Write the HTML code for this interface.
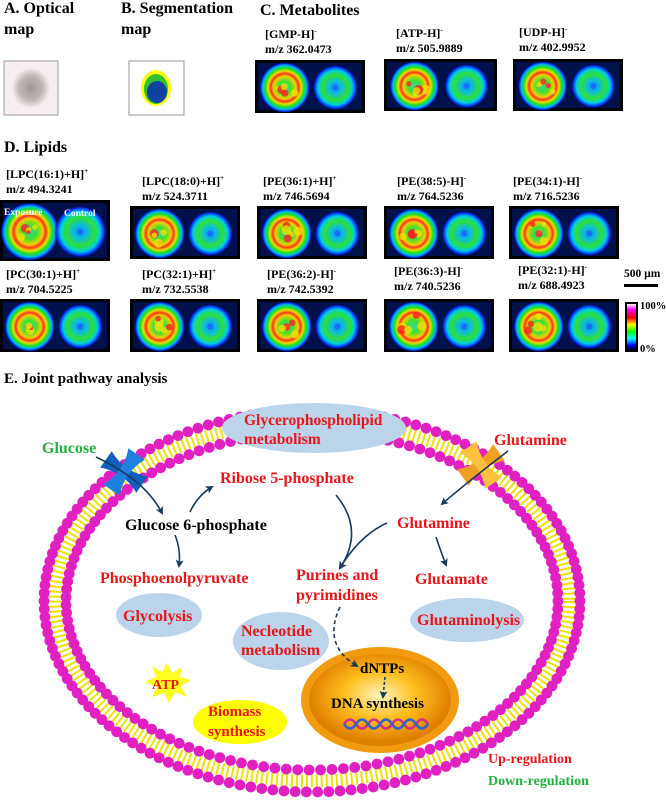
<!DOCTYPE html>
<html><head><meta charset="utf-8"><style>
html,body{margin:0;padding:0;background:#fff;width:666px;height:800px;overflow:hidden}
svg{display:block;font-family:"Liberation Serif",serif;font-weight:bold}
</style></head><body>
<svg id="s" width="666" height="800" viewBox="0 0 666 800" xmlns="http://www.w3.org/2000/svg">
<defs>
<radialGradient id="hot"><stop offset="0" stop-color="#30d8a0"/><stop offset="0.25" stop-color="#40e030"/><stop offset="0.45" stop-color="#f0d000"/><stop offset="0.55" stop-color="#ff3020"/><stop offset="0.65" stop-color="#e8e000"/><stop offset="0.76" stop-color="#20e020"/><stop offset="0.86" stop-color="#00c0e0"/><stop offset="0.94" stop-color="#0030ff"/><stop offset="1" stop-color="#000040" stop-opacity="0"/></radialGradient>
<radialGradient id="cool"><stop offset="0" stop-color="#0090ff"/><stop offset="0.3" stop-color="#10c0d0"/><stop offset="0.55" stop-color="#30e030"/><stop offset="0.75" stop-color="#00d0e0"/><stop offset="0.9" stop-color="#0030ff"/><stop offset="1" stop-color="#000040" stop-opacity="0"/></radialGradient>
<radialGradient id="nuc" cx="0.5" cy="0.45"><stop offset="0" stop-color="#fff4c0"/><stop offset="0.5" stop-color="#ffc020"/><stop offset="1" stop-color="#e08000"/></radialGradient>
<radialGradient id="opt"><stop offset="0" stop-color="#a09898"/><stop offset="0.6" stop-color="#c0b4b4"/><stop offset="1" stop-color="#f4eeee"/></radialGradient>
<linearGradient id="cbar" x1="0" y1="0" x2="0" y2="1"><stop offset="0" stop-color="#fff"/><stop offset="0.12" stop-color="#ff00ff"/><stop offset="0.3" stop-color="#ff0000"/><stop offset="0.45" stop-color="#ffff00"/><stop offset="0.6" stop-color="#00ff00"/><stop offset="0.75" stop-color="#00ffff"/><stop offset="0.9" stop-color="#0000ff"/><stop offset="1" stop-color="#000"/></linearGradient>
<marker id="ar" markerWidth="8" markerHeight="8" refX="6" refY="4" orient="auto" markerUnits="userSpaceOnUse"><path d="M0,0 L8,4 L0,8 L2,4z" fill="#1a3a5c"/></marker>
</defs>
<g font-size="16">
<text x="4" y="13">A. Optical</text><text x="4" y="34">map</text>
<text x="121" y="13">B. Segmentation</text><text x="121" y="34">map</text>
<text x="260" y="15">C. Metabolites</text>
<text x="4" y="152">D. Lipids</text>
<text x="4" y="383" font-size="15">E. Joint pathway analysis</text>
</g>
<rect x="4" y="61" width="54" height="54" fill="#f6eeee" stroke="#999"/>
<ellipse cx="31" cy="88" rx="19" ry="20" fill="url(#opt)"/>
<rect x="129" y="61" width="55" height="54" fill="#fff" stroke="#999"/>
<ellipse cx="156" cy="88" rx="15" ry="18" fill="#ffff00"/>
<ellipse cx="156" cy="89" rx="12" ry="15" fill="#30c030"/>
<ellipse cx="157" cy="92" rx="10" ry="11" fill="#1040a0"/>
<g id="heat"></g>
<g font-size="12" id="labels"></g>
<text x="624" y="277" font-size="11.5">500 µm</text>
<rect x="624" y="284" width="34" height="3" fill="#000"/>
<rect x="625" y="302" width="13" height="50" fill="#000"/>
<rect x="627" y="304" width="9" height="46" fill="url(#cbar)"/>
<text x="640" y="309" font-size="10.5">100%</text><text x="640" y="352" font-size="10.5">0%</text>
<g id="mem"></g>
<ellipse cx="314" cy="428" rx="92" ry="25" fill="#bcd4ea"/>
<text x="244" y="425" font-size="15.5" fill="#e8161a">Glycerophospholipid</text>
<text x="244" y="444" font-size="15.5" fill="#e8161a">metabolism</text>
<g transform="translate(124,472) rotate(35)"><path d="M-22,-10 Q0,0 22,-10 L22,10 Q0,0 -22,10z" fill="#1060c0"/><path d="M-10,-22 Q0,0 -10,22 L10,22 Q0,0 10,-22z" fill="#2080e0"/></g>
<g transform="translate(481,465) rotate(-35)"><path d="M-22,-10 Q0,0 22,-10 L22,10 Q0,0 -22,10z" fill="#f0a020"/><path d="M-10,-22 Q0,0 -10,22 L10,22 Q0,0 10,-22z" fill="#ffc040"/></g>
<g font-size="16">
<text x="42" y="453" fill="#20b040">Glucose</text>
<text x="494" y="445" fill="#e8161a">Glutamine</text>
<text x="220" y="483" fill="#e8161a">Ribose 5-phosphate</text>
<text x="125" y="530" fill="#000">Glucose 6-phosphate</text>
<text x="397" y="528" fill="#e8161a">Glutamine</text>
<text x="100" y="583" fill="#e8161a">Phosphoenolpyruvate</text>
<text x="296" y="580" fill="#e8161a">Purines and</text>
<text x="296" y="600" fill="#e8161a">pyrimidines</text>
<text x="415" y="584" fill="#e8161a">Glutamate</text>
</g>
<ellipse cx="159" cy="615" rx="43" ry="22" fill="#bcd4ea"/>
<text x="123" y="621" font-size="16" fill="#e8161a">Glycolysis</text>
<ellipse cx="467" cy="620" rx="57" ry="22" fill="#bcd4ea"/>
<text x="417" y="625" font-size="16" fill="#e8161a">Glutaminolysis</text>
<ellipse cx="281" cy="641" rx="48" ry="29" fill="#bcd4ea"/>
<text x="241" y="636" font-size="16" fill="#e8161a">Necleotide</text>
<text x="241" y="655" font-size="16" fill="#e8161a">metabolism</text>
<polygon points="167,663 172,673 182,667 180,677 191,680 181,686 187,697 175,692 169,703 164,693 152,697 157,687 145,682 156,677 152,666 162,672" fill="#ffff20"/>
<text x="152" y="689" font-size="14" fill="#e8161a">ATP</text>
<ellipse cx="240" cy="722" rx="47" ry="22" fill="#ffff00"/>
<text x="208" y="716" font-size="15" fill="#e8161a">Biomass</text>
<text x="208" y="736" font-size="15" fill="#e8161a">synthesis</text>
<ellipse cx="380" cy="700" rx="79" ry="53" fill="#f29a10"/>
<ellipse cx="380" cy="700" rx="71" ry="46" fill="url(#nuc)"/>
<text x="360" y="673" font-size="15" fill="#000">dNTPs</text>
<text x="331" y="708" font-size="15" fill="#000">DNA synthesis</text>
<path d="M344,724 q6,-9 12,0 q6,9 12,0 q6,-9 12,0 q6,9 12,0 q6,-9 12,0 q6,9 12,0 q6,-9 12,0" fill="none" stroke="#d03080" stroke-width="2.5"/>
<path d="M344,724 q6,9 12,0 q6,-9 12,0 q6,9 12,0 q6,-9 12,0 q6,9 12,0 q6,-9 12,0 q6,9 12,0" fill="none" stroke="#3060d0" stroke-width="2.5"/>
<text x="488" y="763" font-size="14" fill="#e8161a">Up-regulation</text>
<text x="488" y="785" font-size="14" fill="#20b040">Down-regulation</text>
<g fill="none" stroke="#1a3a5c" stroke-width="1.6" marker-end="url(#ar)">
<path d="M96,457 Q145,480 162,513"/>
<path d="M190,512 Q198,495 212,487"/>
<path d="M175,535 Q181,550 179,566"/>
<path d="M508,451 Q470,480 442,504"/>
<path d="M336,495 Q365,530 340,568"/>
<path d="M387,523 Q360,535 340,568"/>
<path d="M436,537 Q441,552 446,565"/>
<path d="M340,607 Q322,645 357,666" stroke-dasharray="4,3"/>
<path d="M385,677 L383,697" stroke-dasharray="3,2"/>
</g>
</svg>
<script>
var NS="http://www.w3.org/2000/svg";
function el(p,t,a,txt){var e=document.createElementNS(NS,t);for(var k in a)e.setAttribute(k,a[k]);if(txt)e.textContent=txt;p.appendChild(e);return e;}
var heat=document.getElementById('heat'),lab=document.getElementById('labels');
var seed=7;function rnd(){seed=(seed*9301+49297)%233280;return seed/233280;}
function hm(x,y,w,h){el(heat,'rect',{x:x,y:y,width:w,height:h,fill:'#000'});
el(heat,'rect',{x:x+3,y:y+3,width:w-6,height:h-6,fill:'#00104a'});
var r=h*0.48,cy=y+h*0.52;
el(heat,'ellipse',{cx:x+w*0.27,cy:cy,rx:r,ry:r,fill:'url(#hot)'});
el(heat,'ellipse',{cx:x+w*0.73,cy:cy,rx:r*0.9,ry:r*0.9,fill:'url(#cool)'});
for(var i=0;i<5;i++){var a=rnd()*6.28,d=r*0.5*rnd();
el(heat,'circle',{cx:x+w*0.27+d*Math.cos(a),cy:cy+d*Math.sin(a),r:2+rnd()*3,fill:i%2?'#ff2020':'#f0e000',opacity:0.8});}
el(heat,'circle',{cx:x+w*0.73,cy:cy,r:3,fill:'#2060ff',opacity:0.8});}
hm(255,60,110,53);hm(384,59,113,52);hm(513,59,110,52);
var xs=[130,257,384,509];
hm(0,200,110,61);xs.forEach(function(x){hm(x,206,110,53);});
hm(0,299,110,53);xs.forEach(function(x){hm(x,299,110,53);});
el(heat,'text',{x:4,y:215,fill:'#fff','font-size':'9.5'},'Exposure');
el(heat,'text',{x:64,y:216,fill:'#fff','font-size':'9.5'},'Control');
function L(x,y,a,b,c){var t=el(lab,'text',{x:x,y:y});t.appendChild(document.createTextNode(a));
el(t,'tspan',{'font-size':'7',dy:'-5'},b);el(lab,'text',{x:x,y:y+15},c);}
L(265,38,'[GMP-H]','-','m/z 362.0473');L(396,37,'[ATP-H]','-','m/z 505.9889');L(519,36,'[UDP-H]','-','m/z 402.9952');
L(6,178,'[LPC(16:1)+H]','+','m/z 494.3241');L(142,185,'[LPC(18:0)+H]','+','m/z 524.3711');
L(263,185,'[PE(36:1)+H]','+','m/z 746.5694');L(397,185,'[PE(38:5)-H]','-','m/z 764.5236');L(513,185,'[PE(34:1)-H]','-','m/z 716.5236');
L(6,278,'[PC(30:1)+H]','+','m/z 704.5225');L(142,278,'[PC(32:1)+H]','+','m/z 732.5538');
L(267,278,'[PE(36:2)-H]','-','m/z 742.5392');L(394,275,'[PE(36:3)-H]','-','m/z 740.5236');L(518,274,'[PE(32:1)-H]','-','m/z 688.4923');
var mem=document.getElementById('mem');var cx=312,cy=601,rx=268,ry=191;
el(mem,'ellipse',{cx:cx,cy:cy,rx:rx-11,ry:ry-11,fill:'none',stroke:'#f0e000','stroke-width':'13','stroke-dasharray':'2,3'});
function ring(a,b,n){for(var i=0;i<n;i++){var t=i/n*2*Math.PI;el(mem,'circle',{cx:cx+a*Math.cos(t),cy:cy+b*Math.sin(t),r:5.4,fill:'#e020c0'});}}
ring(rx,ry,150);ring(rx-22,ry-22,135);
</script>
</body></html>
